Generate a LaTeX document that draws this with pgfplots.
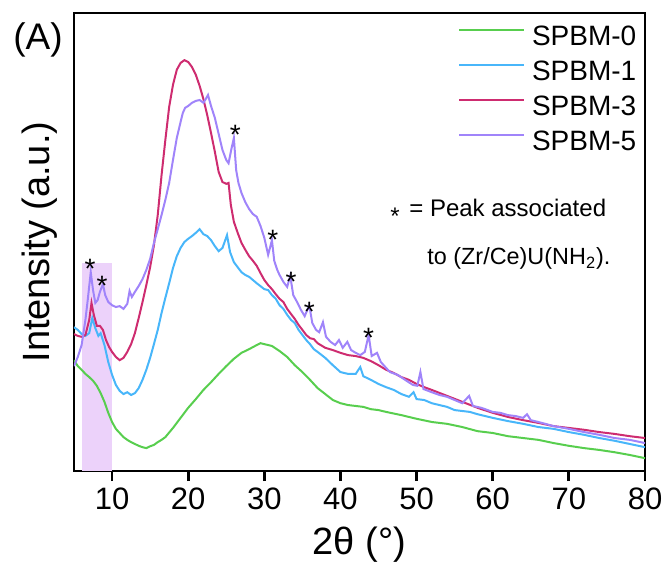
\documentclass[border=0pt]{standalone}
\usepackage{fontspec}
\setmainfont{Liberation Sans}
\usepackage{pgfplots}
\pgfplotsset{compat=1.18}
\definecolor{cgreen}{RGB}{88,206,78}
\definecolor{cblue}{RGB}{72,182,250}
\definecolor{cmag}{RGB}{206,44,112}
\definecolor{cpurp}{RGB}{160,132,250}
\definecolor{cshade}{RGB}{236,210,250}
\begin{document}
\begin{tikzpicture}
\path[use as bounding box] (-37pt,-48pt) rectangle (296.5pt,235.5pt);
\begin{axis}[
  at={(0pt,0pt)}, anchor=south west,
  scale only axis, width=285.5pt, height=229pt,
  xmin=5, xmax=80, ymin=0, ymax=100,
  xtick={10,20,...,80}, ytick=\empty,
  xtick pos=bottom, tick align=outside, major tick length=5pt,
  axis line style={line width=1.4pt},
  every tick/.style={line width=1.4pt, black},
  /pgf/number format/assume math mode=true,
  xticklabel style={font=\fontsize{15.5}{18}\selectfont},
  xlabel={2θ (°)},
  xlabel style={at={(axis description cs:0.5,-0.1616)}, anchor=center, font=\fontsize{19}{22}\selectfont},
  ylabel={Intensity (a.u.)},
  ylabel style={at={(axis description cs:-0.0595,0.5)}, anchor=center, font=\fontsize{19}{22}\selectfont},
  legend cell align=left,
  legend style={at={(axis description cs:0.6725,0.976)}, anchor=north west, draw=none, fill=none,
    inner sep=0pt, outer sep=0pt, row sep=2.5pt, column sep=3.5pt,
    nodes={inner sep=0pt, text height=11pt, text depth=4pt},
    font=\fontsize{14}{16}\selectfont},
  legend image code/.code={\draw[#1] (0pt,4.3pt) -- (32.5pt,4.3pt);},
  every axis plot/.append style={line width=1pt},
]
\addplot[fill=cshade, draw=none, forget plot] coordinates {(6,45.4) (10,45.4)} \closedcycle;

\addplot[cgreen] table {
5.0 24.2
5.5 22.9
6.0 22.1
6.5 21.2
7.0 20.5
7.5 19.7
8.0 18.6
8.5 17.0
9.0 15.1
9.5 12.7
10.0 10.7
10.5 9.2
11.0 8.3
11.5 7.4
12.0 6.8
12.5 6.3
13.0 5.9
13.5 5.5
14.0 5.2
14.5 5.0
15.0 5.4
15.5 5.7
16.0 6.3
16.5 6.8
17.0 7.4
18.0 9.4
19.0 11.6
20.0 13.8
21.0 15.7
22.0 17.7
23.0 19.4
24.0 21.2
25.0 22.9
26.0 24.5
27.0 25.8
28.0 26.6
29.0 27.5
29.5 27.9
30.0 27.7
31.0 27.3
32.0 26.2
33.0 24.9
34.0 23.1
35.0 21.6
36.0 19.9
37.0 18.1
38.0 16.8
39.0 15.5
40.0 14.8
41.0 14.4
42.0 14.2
43.0 14.0
44.0 13.5
45.0 13.3
46.0 12.9
48.0 12.2
50.0 11.4
52.0 10.7
54.0 10.3
56.0 9.6
58.0 8.7
60.0 8.3
62.0 7.6
64.0 7.2
66.0 6.8
68.0 6.1
70.0 5.5
72.0 5.0
74.0 4.6
76.0 4.1
78.0 3.5
80.0 2.8
};
\addlegendentry{SPBM-0}

\addplot[cblue] table {
5.0 31.4
5.5 30.8
6.0 29.9
6.5 29.5
7.0 30.1
7.4 33.4
7.8 31.2
8.2 29.5
8.5 30.1
9.0 27.5
9.5 23.8
10.0 21.0
10.5 18.8
11.0 17.5
11.5 16.8
12.0 17.2
12.5 16.6
13.0 17.0
13.5 18.1
14.0 19.9
14.5 22.1
15.0 24.7
15.5 27.7
16.0 30.8
16.5 34.5
17.0 37.8
17.5 41.0
18.0 44.3
18.5 46.9
19.0 48.7
19.5 50.0
20.0 50.7
20.5 51.3
21.0 52.0
21.5 52.8
22.0 51.7
22.5 51.3
23.0 50.4
23.5 49.1
24.0 48.0
24.5 48.7
25.1 51.5
25.5 47.8
26.0 45.6
26.5 44.5
27.0 43.4
27.5 42.8
28.0 42.4
29.0 41.0
30.0 39.7
30.5 39.5
31.0 38.4
31.5 37.6
32.0 36.2
32.5 35.4
33.0 34.1
33.5 33.0
34.0 32.3
34.5 30.8
35.0 29.7
35.5 28.6
36.0 27.7
36.5 26.6
37.0 26.0
38.0 24.7
39.0 23.1
40.0 21.6
41.0 21.2
42.0 21.2
42.6 22.7
43.0 20.7
44.0 19.9
45.0 19.0
46.0 18.3
47.0 17.7
48.0 16.8
49.0 16.2
49.6 17.2
50.0 15.7
51.0 15.5
52.0 14.8
54.0 14.0
55.0 13.3
56.0 13.1
57.0 12.9
58.0 12.4
60.0 11.6
62.0 10.9
64.0 10.3
66.0 9.6
68.0 9.2
70.0 8.5
72.0 7.9
74.0 7.2
76.0 6.6
78.0 5.9
80.0 5.2
};
\addlegendentry{SPBM-1}

\addplot[cmag] table {
5.0 29.9
5.5 29.5
6.0 29.3
6.5 29.7
7.0 33.0
7.3 36.7
7.6 34.1
8.0 31.7
8.4 31.7
8.8 30.8
9.2 28.6
9.6 27.1
10.0 26.0
10.5 24.9
11.0 24.2
11.5 24.7
12.0 26.0
12.5 27.7
13.0 30.1
13.5 33.4
14.0 36.9
14.5 40.6
15.0 44.5
15.5 49.3
16.0 55.9
16.5 64.6
17.0 72.3
17.5 79.5
18.0 84.3
18.5 87.6
19.0 89.1
19.5 89.7
20.0 89.3
20.5 88.2
21.0 86.5
21.5 84.1
22.0 81.2
22.5 77.7
23.0 73.8
23.5 69.7
24.0 65.3
24.5 63.1
25.0 62.7
25.3 62.9
25.6 58.1
26.0 54.4
26.5 52.0
27.0 49.8
27.5 48.3
28.0 46.9
28.5 45.9
29.0 44.8
29.5 43.2
30.0 41.7
30.5 40.6
31.0 39.7
31.5 38.6
32.0 37.6
32.5 36.9
33.0 35.4
33.5 34.3
34.0 33.2
34.5 31.9
35.0 30.8
35.5 29.7
36.0 29.0
36.5 28.8
37.0 27.9
38.0 26.9
39.0 26.4
40.0 25.8
41.0 25.3
42.0 25.1
43.0 24.7
44.0 24.0
45.0 23.1
46.0 22.1
47.0 21.4
48.0 20.5
49.0 19.9
50.0 19.0
51.0 18.3
52.0 17.7
54.0 16.4
56.0 15.1
58.0 13.8
60.0 12.7
62.0 11.8
64.0 11.1
66.0 10.5
68.0 9.8
70.0 9.4
72.0 9.0
74.0 8.5
76.0 8.1
78.0 7.6
80.0 7.2
};
\addlegendentry{SPBM-3}

\addplot[cpurp] table {
5.0 22.9
5.5 24.9
6.0 27.5
6.5 33.0
6.8 37.3
7.2 43.4
7.5 39.5
7.8 36.7
8.1 37.3
8.4 39.1
8.8 40.8
9.1 38.4
9.5 36.9
10.0 36.2
10.5 35.8
11.0 36.0
11.5 35.4
12.0 36.5
12.3 39.3
12.6 38.0
13.0 39.1
13.5 40.4
14.0 41.9
14.5 43.9
15.0 46.3
15.5 49.8
16.0 52.8
16.5 55.9
17.0 59.2
17.5 62.9
18.0 67.9
18.5 72.7
19.0 76.2
19.3 78.2
19.6 79.3
20.0 79.7
20.5 80.4
21.0 80.8
21.5 81.0
22.0 80.4
22.3 81.2
22.6 82.1
23.0 79.7
23.5 77.1
24.0 73.6
24.5 70.1
25.0 67.9
25.3 67.2
25.7 70.5
26.0 72.7
26.3 65.7
26.6 62.9
27.0 60.7
27.5 58.7
28.0 57.2
28.5 56.1
29.0 55.5
29.5 53.5
30.0 50.9
30.5 47.2
31.0 50.4
31.3 45.9
31.7 43.9
32.0 42.8
32.5 41.3
33.0 40.2
33.4 42.6
33.8 38.4
34.3 36.9
34.8 35.2
35.3 33.8
35.9 36.2
36.3 32.3
36.8 30.8
37.2 30.3
37.7 32.5
38.1 29.3
38.7 28.2
39.3 27.5
39.8 28.6
40.3 26.9
40.9 28.2
41.4 26.4
42.0 25.8
42.6 25.3
43.2 26.0
43.7 29.7
44.1 25.1
44.8 25.8
45.3 23.8
46.0 22.5
46.5 21.6
47.5 21.0
48.5 19.9
49.5 18.8
50.1 18.6
50.5 21.6
50.9 17.9
52.0 17.2
53.0 16.6
54.0 16.2
55.0 15.5
56.0 14.8
56.9 16.4
57.4 14.2
58.5 13.8
60.0 12.9
61.0 12.7
62.0 12.2
63.0 12.0
64.0 11.6
64.5 12.4
65.0 11.1
66.0 10.7
68.0 9.8
70.0 9.2
72.0 8.5
74.0 7.9
76.0 7.2
78.0 6.8
80.0 6.1
};
\addlegendentry{SPBM-5}

\addplot[draw=none, mark=none, forget plot, nodes near coords={*},
  nodes near coords style={anchor=base, yshift=-8.1pt, font=\fontsize{14}{16}\selectfont, black}]
  coordinates {(7.1,45.6) (8.7,41.9) (26.2,74.9) (31.1,52.0) (33.5,42.8) (35.9,36.2) (43.7,30.6)};
\end{axis}
\node[anchor=center, font=\fontsize{18.5}{22}\selectfont] at (-18pt,215.5pt) {(A)};
\node[anchor=base west, inner sep=0pt, font=\fontsize{12}{14}\selectfont] at (158pt,127pt) {\raisebox{-0.3em}{*}\hspace{0.4em}= Peak associated};
\node[anchor=base west, inner sep=0pt, font=\fontsize{11.7}{14}\selectfont] at (176.5pt,103pt) {to (Zr/Ce)U(NH\textsubscript{2}).};
\end{tikzpicture}
\end{document}
